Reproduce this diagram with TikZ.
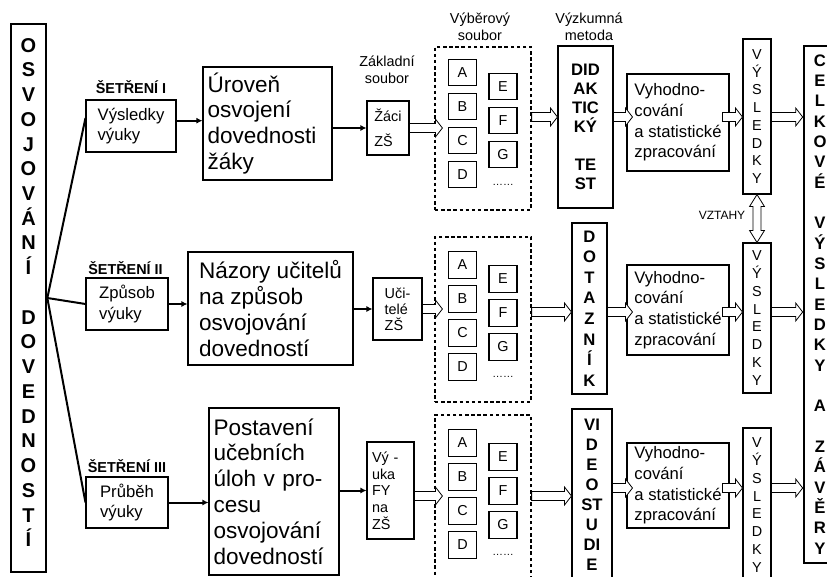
\documentclass[tikz,border=0pt]{standalone}
\usepackage{fontspec}
\setmainfont{Liberation Sans}
\usetikzlibrary{calc,arrows.meta}
\newcommand\harr[2]{\draw[hollow] let \p1=#1, \p2=#2 in (\x1,\y1+3.4pt) -- (\x2-5.25pt,\y1+3.4pt) -- (\x2-5.25pt,\y1+6.75pt) -- (\x2,\y1) -- (\x2-5.25pt,\y1-6.75pt) -- (\x2-5.25pt,\y1-3.4pt) -- (\x1,\y1-3.4pt) -- cycle;}
\begin{document}
\begin{tikzpicture}[x=0.75pt,y=-0.75pt,
 box/.style={draw, line width=0.8pt, inner sep=0pt},
 thickbox/.style={draw, line width=2pt, inner sep=0pt},
 sz/.style 2 args={minimum width={#1*0.75pt}, minimum height={#2*0.75pt}},
 dbox/.style={draw, line width=0.9pt, dash pattern=on 2.6pt off 2pt, inner sep=0pt},
 sbox/.style={draw, line width=0.8pt, inner sep=0pt, minimum width=21pt, minimum height=20pt, font=\fontsize{10.8}{12}\selectfont},
 bigf/.style={font=\fontsize{16.9}{19.4}\selectfont},
 midf/.style={font=\fontsize{12.5}{15.5}\selectfont},
 smf/.style={font=\fontsize{10.8}{13}\selectfont},
 setr/.style={font=\fontsize{10.8}{12}\selectfont\bfseries, inner sep=0pt},
 conn/.style={line width=1.5pt, -{Latex[length=4.5pt,width=4.5pt]}},
 branch/.style={line width=1.5pt},
 hollow/.style={draw, line width=0.6pt, fill=white, line join=miter},
]
\useasboundingbox (0,0) rectangle (827,577);

% left column
\node[thickbox, sz={35}{548}] (osv) at (28.5,298) {};
\node[font=\fontsize{15}{18.56}\selectfont\bfseries, align=center, inner sep=0pt] (osvt) at (28.5,292.5)
 {O\\S\\V\\O\\J\\O\\V\\Á\\N\\Í\\\mbox{}\\D\\O\\V\\E\\D\\N\\O\\S\\T\\Í};

% survey labels
\node[setr] (s1) at (131,87) {ŠETŘENÍ I};
\node[setr] (s2) at (125.5,268) {ŠETŘENÍ II};
\node[setr] (s3) at (127,466) {ŠETŘENÍ III};

\node[box, sz={90}{52}, midf, align=left] (b1) at (131,126) {Výsledky\\výuky};
\node[box, sz={82}{52}, midf, align=left] (b2) at (127,304) {Způsob\\výuky};
\node[box, sz={82}{51}, midf, align=left] (b3) at (127,502.5) {Průběh\\výuky};

\node[box, sz={129}{113}, bigf, align=left, text width=90pt, inner xsep=3.375pt] (ur) at (267.5,123.5)
 {Úroveň\\osvojení\\dovednosti\\žáky};
\node[box, sz={165}{113}, bigf, align=left] (naz) at (270.5,308.5)
 {Názory učitelů\\na způsob\\osvojování\\dovedností};
\node[box, sz={130}{167}, bigf, align=left, text width=90.75pt, inner xsep=3.375pt] (post) at (274,491.5)
 {Postavení\\učebních\\úloh v pro-\\cesu\\osvojování\\dovedností};

% basic population
\node[smf, align=center, inner sep=0pt] (zakl) at (387,70) {Základní\\soubor};
\node[box, sz={42}{54}, font=\fontsize{10.8}{18.75}\selectfont, align=left] (zaci) at (388,128) {Žáci\\ZŠ};
\node[box, sz={49}{62}, font=\fontsize{10.8}{12}\selectfont, align=left] (uc) at (397.5,309) {Uči-\\telé\\ZŠ};
\node[box, sz={47}{97}, font=\fontsize{10.8}{12.5}\selectfont, align=left, text width=27.75pt, inner xsep=3.75pt] (vyuka) at (390.5,490.5)
 {Vý -\\uka\\FY\\na\\ZŠ};

% sample
\node[smf, align=center, inner sep=0pt] (vyb) at (480,26.5) {Výběrový\\soubor};
\node[dbox, sz={96}{163}] (d1) at (483,128.5) {};
\node[dbox, sz={96}{165}] (d2) at (483,319.5) {};
\node[dbox, sz={96}{185}] (d3) at (483,507.5) {};
\foreach \r/\a in {1/72.5, 2/265, 3/443}{
  \node[sbox] (A\r) at (462.5,\a) {A};
  \node[sbox] (B\r) at (462.5,{\a+34}) {B};
  \node[sbox] (C\r) at (462.5,{\a+68}) {C};
  \node[sbox] (D\r) at (462.5,{\a+102}) {D};
  \node[sbox] (E\r) at (503,{\a+14}) {E};
  \node[sbox] (F\r) at (503,{\a+48}) {F};
  \node[sbox] (G\r) at (503,{\a+82}) {G};
  \node[font=\fontsize{8}{9}\selectfont, inner sep=0pt] (dots\r) at (503,{\a+112}) {……};
}

% method
\node[smf, align=center, inner sep=0pt] (vyzk) at (589,26.5) {Výzkumná\\metoda};
\node[box, sz={55}{162}, font=\fontsize{12.5}{14.25}\selectfont\bfseries, align=center] (did) at (585.5,127)
 {DID\\AK\\TIC\\KÝ\\\mbox{}\\TE\\ST};
\node[box, sz={35}{171}, font=\fontsize{12.5}{15.45}\selectfont\bfseries, align=center] (dot) at (589.5,308.5)
 {D\\O\\T\\A\\Z\\N\\Í\\K};
\node[box, sz={40}{191}] (vid) at (592,504.5) {};
\node[font=\fontsize{12.5}{15}\selectfont\bfseries, align=center, inner sep=0pt] (vidt) at (592,495)
 {VI\\D\\E\\O\\ST\\U\\DI\\E};

% evaluation
\node[box, sz={102}{97}, midf, align=left] (vyh1) at (678,122.5) {Vyhodno-\\cování\\a statistické\\zpracování};
\node[box, sz={102}{90}, midf, align=left] (vyh2) at (678,310) {Vyhodno-\\cování\\a statistické\\zpracování};
\node[box, sz={102}{85}, midf, align=left] (vyh3) at (678,485.5) {Vyhodno-\\cování\\a statistické\\zpracování};

% results
\node[box, sz={28}{155}, font=\fontsize{10.8}{13.3}\selectfont, align=center] (vs1) at (757,116.5) {V\\Ý\\S\\L\\E\\D\\K\\Y};
\node[box, sz={28}{150}, font=\fontsize{10.8}{13.3}\selectfont, align=center] (vs2) at (757,318) {V\\Ý\\S\\L\\E\\D\\K\\Y};
\node[box, sz={28}{172}] (vs3) at (757,514) {};
\node[font=\fontsize{10.8}{13.3}\selectfont, align=center, inner sep=0pt] (vs3t) at (757,505) {V\\Ý\\S\\L\\E\\D\\K\\Y};
\node[font=\fontsize{9}{10}\selectfont, inner sep=0pt] (vzt) at (722,215) {VZTAHY};

% overall results
\node[thickbox, sz={32}{517}, font=\fontsize{12.5}{15.25}\selectfont\bfseries, align=center] (big) at (820,304.5)
 {C\\E\\L\\K\\O\\V\\É\\\mbox{}\\V\\Ý\\S\\L\\E\\D\\K\\Y\\\mbox{}\\A\\\mbox{}\\Z\\Á\\V\\Ě\\R\\Y};

% row coordinates
\coordinate (r1) at (0,117);
\coordinate (r2) at (0,312);
\coordinate (r3a) at (0,496);
\coordinate (r3) at (0,488);
\coordinate (b1a) at ($(b1.north east)!0.4!(b1.south east)$);
\coordinate (b1w) at ($(b1.north west)!0.35!(b1.south west)$);

% branches
\draw[branch] (osv.east) -- (b1w);
\draw[branch] (osv.east) -- (b2.west);
\draw[branch] (osv.east) -- (b3.west);

% thin arrows
\draw[conn] (b1a) -- (b1a -| ur.west);
\draw[conn] (ur.east |- zaci.west) -- (zaci.west);
\draw[conn] (b2.east) -- (b2.east -| naz.west);
\draw[conn] (naz.east |- uc.west) -- (uc.west);
\draw[conn] (b3.east) -- (b3.east -| post.west);
\draw[conn] (post.east |- vyuka.west) -- (vyuka.west);

% hollow arrows row 1
\harr{(zaci.east)}{($(d1.west)+(8,0)$)}
\harr{(d1.east|-r1)}{(did.west)}
\harr{(did.east|-r1)}{($(vyh1.west)+(6,0)$)}
\harr{($(vyh1.east|-r1)+(-7,0)$)}{(vs1.west)}
\harr{(vs1.east|-r1)}{(big.west)}
% row 2
\harr{(uc.east)}{($(d2.west)+(8,0)$)}
\harr{(d2.east|-r2)}{(dot.west)}
\harr{(dot.east|-r2)}{($(vyh2.west)+(6,0)$)}
\harr{($(vyh2.east|-r2)+(-7,0)$)}{(vs2.west)}
\harr{(vs2.east|-r2)}{(big.west)}
% row 3
\harr{(vyuka.east|-r3a)}{($(d3.west)+(8,0)$)}
\harr{(d3.east|-r3a)}{(vid.west)}
\harr{(vid.east|-r3)}{($(vyh3.west)+(6,0)$)}
\harr{($(vyh3.east|-r3)+(-7,0)$)}{(vs3.west)}
\harr{(vs3.east|-r3)}{(big.west)}

% relations double arrow
\draw[hollow] let \p1=(vs1.south), \p2=(vs2.north) in
 (\x1,\y1) -- (\x1+5.6pt,\y1-9pt) -- (\x1+3pt,\y1-9pt) -- (\x1+3pt,\y2+9pt) -- (\x1+5.6pt,\y2+9pt) -- (\x1,\y2)
 -- (\x1-5.6pt,\y2+9pt) -- (\x1-3pt,\y2+9pt) -- (\x1-3pt,\y1-9pt) -- (\x1-5.6pt,\y1-9pt) -- cycle;
\end{tikzpicture}
\end{document}
